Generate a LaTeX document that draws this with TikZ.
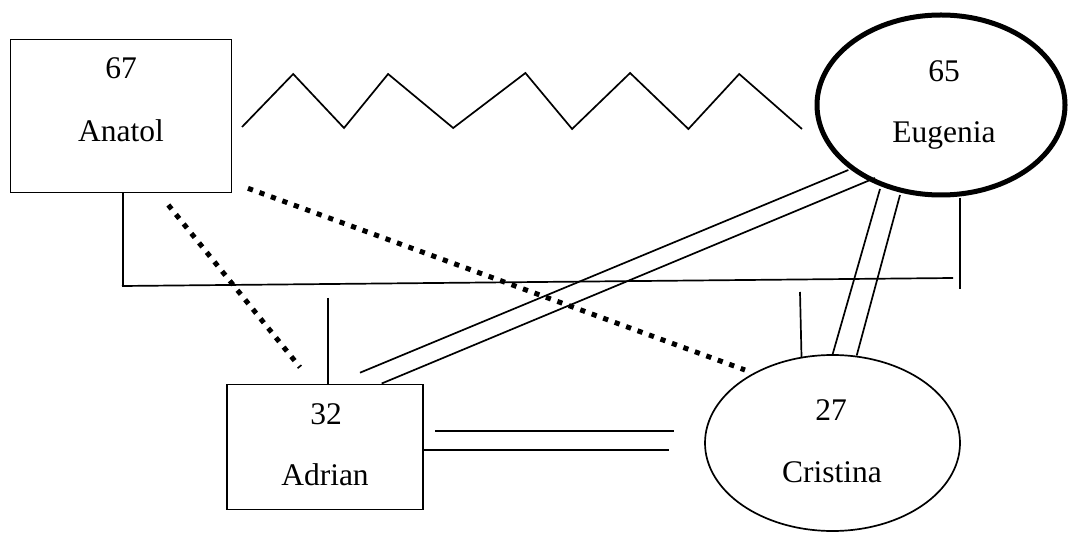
\documentclass[tikz,border=0pt]{standalone}
\usepackage{fontspec}
\setmainfont{Liberation Serif}
\usetikzlibrary{shapes.geometric}
\begin{document}
\begin{tikzpicture}[x=1pt,y=-1pt,
  every node/.style={inner sep=0pt, outer sep=0pt},
  ln/.style={line width=1.7pt},
  boxnode/.style={draw, rectangle, line width=1.8pt},
  ellnode/.style={draw, ellipse, line width=1.7pt},
  thickell/.style={draw, ellipse, line width=5pt},
  txt/.style={font=\fontsize{31.5}{36}\selectfont, anchor=base},
  sqdot/.style={line width=5pt, dash pattern=on 5.2pt off 7pt}
]
\useasboundingbox (0,0) rectangle (1070,534);
% people
\node[boxnode, minimum width=221pt, minimum height=153pt] (anatol) at (121,116) {};
\node[thickell, minimum width=248pt, minimum height=180pt] (eugenia) at (941,105) {};
\node[boxnode, minimum width=196pt, minimum height=125pt] (adrian) at (325,447) {};
\node[ellnode, minimum width=255pt, minimum height=176pt] (cristina) at (832.5,443) {};
% texts
\node[txt] (t67) at (121,79) {67};
\node[txt] (tanatol) at (121,142) {Anatol};
\node[txt] (t65) at (944,82) {65};
\node[txt] (teugenia) at (944,143) {Eugenia};
\node[txt] (t32) at (326,424) {32};
\node[txt] (tadrian) at (325,485) {Adrian};
\node[txt] (t27) at (831,420) {27};
\node[txt] (tcristina) at (832,482.5) {Cristina};
% zigzag Anatol -- Eugenia
\coordinate (zA) at (242,127);
\coordinate (zE) at (802,129);
\draw[ln, line join=miter] (zA) -- (293.2,74) -- (344,128) -- (388.1,74) -- (453.2,128)
  -- (525.4,73) -- (572.1,129) -- (630.1,73) -- (688.4,129) -- (739.2,74) -- (zE);
% family bracket
\coordinate (fa) at (123,286);
\coordinate (fl) at (122,286);
\coordinate (fr) at (953,278);
\coordinate (fe1) at (960,198);
\coordinate (fe2) at (960,289);
\coordinate (fad) at (328,298);
\coordinate (fcr) at (800,292);
\draw[ln] (anatol.south -| fa) -- (fa);
\draw[ln] (fl) -- (fr);
\draw[ln] (fe1) -- (fe2);
\draw[ln] (fad) -- (adrian.north -| fad);
\coordinate (fcr2) at (801.5,357);
\draw[ln] (fcr) -- (fcr2);
% double line Adrian -- Eugenia
\coordinate (ae1) at (360,372.7);
\coordinate (ae2) at (848.3,170);
\coordinate (ae3) at (381.7,383.5);
\coordinate (ae4) at (875,178);
\draw[ln] (ae1) -- (ae2);
\draw[ln] (ae3) -- (ae4);
% double line Eugenia -- Cristina
\coordinate (ec1) at (880,189);
\coordinate (ec2) at (832.7,354);
\coordinate (ec3) at (900,195);
\coordinate (ec4) at (856.7,355.5);
\draw[ln] (ec1) -- (ec2);
\draw[ln] (ec3) -- (ec4);
% double line Adrian -- Cristina
\coordinate (ac1) at (435,430.7);
\coordinate (ac2) at (674,430.7);
\coordinate (ac3) at (adrian.east |- 0,450);
\coordinate (ac4) at (669.3,450);
\draw[ln] (ac1) -- (ac2);
\draw[ln] (ac3) -- (ac4);
% dotted connectors
\coordinate (d1) at (168.3,205);
\coordinate (d2) at (300,367.3);
\coordinate (d3) at (248,188.3);
\coordinate (d4) at (745,370);
\draw[sqdot] (d1) -- (d2);
\draw[sqdot] (d3) -- (d4);
\end{tikzpicture}
\end{document}
